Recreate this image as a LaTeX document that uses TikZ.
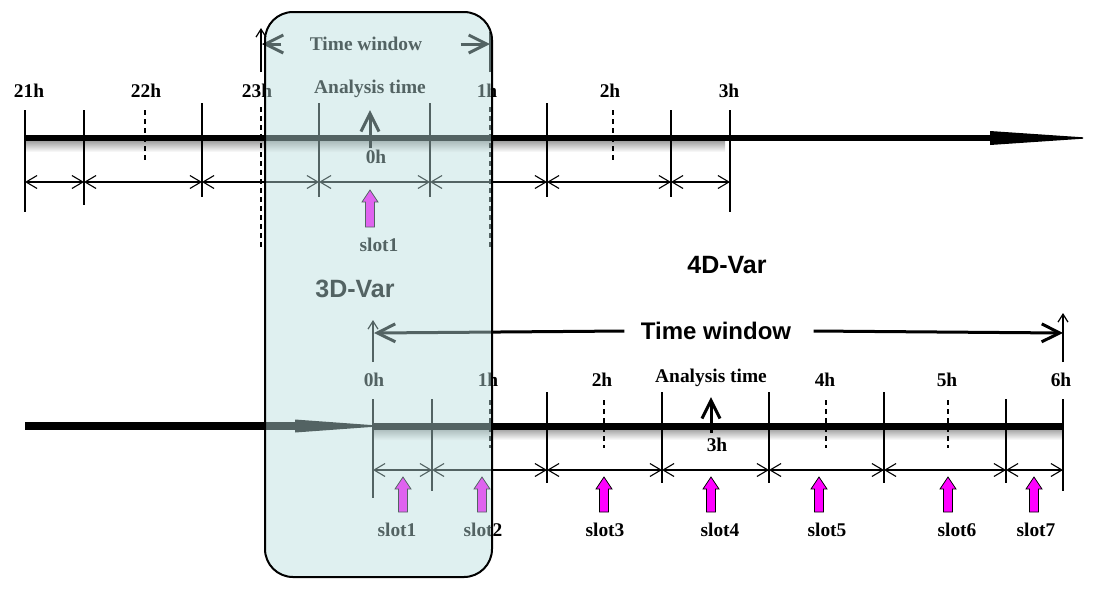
\documentclass[tikz,border=0pt]{standalone}
\usepackage{fontspec}
\setmainfont{Liberation Serif}
\newfontfamily\varfont{Liberation Sans}
\usetikzlibrary{arrows.meta, calc, positioning}

\definecolor{boxtint}{RGB}{185,221,221}
\definecolor{slotmag}{RGB}{255,0,255}

% block arrow of an observation slot: x, tip y, base y
\newcommand{\slotarrow}[3]{%
  \filldraw[slotbody] (#1,#2) -- (#1+8,#2+12) -- (#1+4.5,#2+12) -- (#1+4.5,#3)
    -- (#1-4.5,#3) -- (#1-4.5,#2+12) -- (#1-8,#2+12) -- cycle;}

\begin{document}
\begin{tikzpicture}[x=0.5pt, y=-0.5pt,
    lbl/.style={font=\fontsize{9.7}{11}\selectfont\bfseries, inner sep=0pt},
    varlbl/.style={font=\varfont\fontsize{12.5}{14}\selectfont\bfseries, inner sep=0pt},
    tick/.style={line width=0.6pt},
    dtick/.style={line width=0.6pt, dash pattern=on 2.5pt off 2pt},
    dim/.style={line width=0.55pt, {Straight Barb[length=5.5pt,width=6.5pt]}-{Straight Barb[length=5.5pt,width=6.5pt]}},
    bigarr/.style={line width=1.5pt, -{Straight Barb[length=9pt,width=9pt]}},
    thinup/.style={line width=0.6pt, -{Straight Barb[length=4pt,width=5pt]}},
    axisline/.style={line width=3pt},
    shade/.style={top color=black!40, bottom color=white},
    slotbody/.style={fill=slotmag, draw=black, line width=0.4pt}]
\useasboundingbox (0,0) rectangle (1099,591);

% ---------- upper time axis (3D-Var) ----------
\shade[shade] (25,140) rectangle (725,152);
\draw[axisline] (25,138) -- (990,138);
\fill (990,131) -- (1083,137.3) -- (1083,138.7) -- (990,145) -- cycle;

% solid ticks
\foreach \x/\a/\b in {25/110/212, 84/110/205, 202/103/197, 319/103/197,
                      430/103/197, 547/103/197, 671/110/197, 730/110/212}
  \draw[tick] (\x,\a) -- (\x,\b);
% dashed ticks
\draw[dtick] (145,110) -- (145,160);
\draw[dtick] (613,110) -- (613,160);
\draw[dtick] (261,107) -- (261,248);
\draw[dtick] (490,107) -- (490,248);

% slot lengths
\foreach \a/\b in {25/84, 84/202, 202/319, 319/430, 430/547, 547/671, 671/730}
  \draw[dim] (\a,182) -- (\b,182);

% hour labels
\node[lbl] (u21) at (29,91) {21h};
\node[lbl] (u22) at (146,91) {22h};
\node[lbl] (u23) at (257,91) {23h};
\node[lbl] (u1) at (487,91) {1h};
\node[lbl] (u2) at (610,91) {2h};
\node[lbl] (u3) at (729,91) {3h};

% analysis time
\node[lbl] (uan) at (370,89) {Analysis time};
\node[lbl] (u0) at (376,157) {0h};
\coordinate (uanfoot) at (370,148);
\draw[bigarr] (uanfoot) -- ([yshift=-6pt]uan.south);

% time window
\node[lbl] (utw) at (366,44) {Time window};
\coordinate (utwL) at (262,44);
\coordinate (utwR) at (490,44);
\draw[bigarr] ([xshift=-14pt]utw.west) -- (utwL);
\draw[bigarr] ([xshift=19pt]utw.east) -- (utwR);
\draw[thinup] (261,72) -- (261,28);
\draw[tick] (490,72) -- (490,32);

% observation slot
\slotarrow{370}{190}{227}
\node[lbl] (us1) at (379,245) {slot1};

% ---------- lower time axis (4D-Var) ----------
\node[varlbl] (v3d) at (355,289) {3D-Var};
\node[varlbl] (v4d) at (727,265) {4D-Var};

\shade[shade] (373,428) rectangle (1063,440);
\draw[line width=4pt] (25,426) -- (296,426);
\fill (295,419.5) -- (375,425.3) -- (375,426.7) -- (295,432.5) -- cycle;
\draw[line width=3.5pt] (373,426) -- (1063,426);

% solid ticks
\foreach \x/\a/\b in {373/399/498, 432/399/491, 547/392/483, 662/392/483,
                      769/392/483, 884/392/483, 1006/399/483, 1063/399/491}
  \draw[tick] (\x,\a) -- (\x,\b);
% dashed ticks
\foreach \x in {490, 604, 826, 948}
  \draw[dtick] (\x,400) -- (\x,448);

% slot lengths
\foreach \a/\b in {373/432, 432/547, 547/662, 662/769, 769/884, 884/1006, 1006/1063}
  \draw[dim] (\a,470) -- (\b,470);

% hour labels
\node[lbl] (l0) at (374,380) {0h};
\node[lbl] (l1) at (488,380) {1h};
\node[lbl] (l2) at (602,380) {2h};
\node[lbl] (l4) at (825,380) {4h};
\node[lbl] (l5) at (947,380) {5h};
\node[lbl] (l6) at (1061,380) {6h};

% analysis time
\node[lbl] (lan) at (711,378) {Analysis time};
\node[lbl] (l3) at (717,445) {3h};
\coordinate (lanfoot) at (711,433);
\draw[bigarr] (lanfoot) -- ([yshift=-5pt]lan.south);

% time window
\node[font=\varfont\fontsize{12}{14}\selectfont\bfseries, inner sep=0pt] (ltw) at (716,331) {Time window};
\coordinate (ltwL) at (374,333);
\coordinate (ltwR) at (1063,333);
\draw[bigarr] ([xshift=-8pt]ltw.west) -- (ltwL);
\draw[bigarr] ([xshift=11pt]ltw.east) -- (ltwR);
\draw[thinup] (373,362) -- (373,320);
\draw[thinup] (1063,362) -- (1063,313);

% observation slots
\foreach \x/\lx [count=\i] in {403/397, 482/483, 604/605, 711/720, 819/827, 948/957, 1034/1036} {
  \slotarrow{\x}{477}{512}
  \node[lbl] (ls\i) at (\lx,530) {slot\i};
}

% ---------- 3D-Var window shading ----------
\fill[boxtint, opacity=0.45, rounded corners=14pt] (265,12) rectangle (492,577);
\draw[line width=1pt, rounded corners=14pt] (265,12) rectangle (492,577);
\end{tikzpicture}
\end{document}
